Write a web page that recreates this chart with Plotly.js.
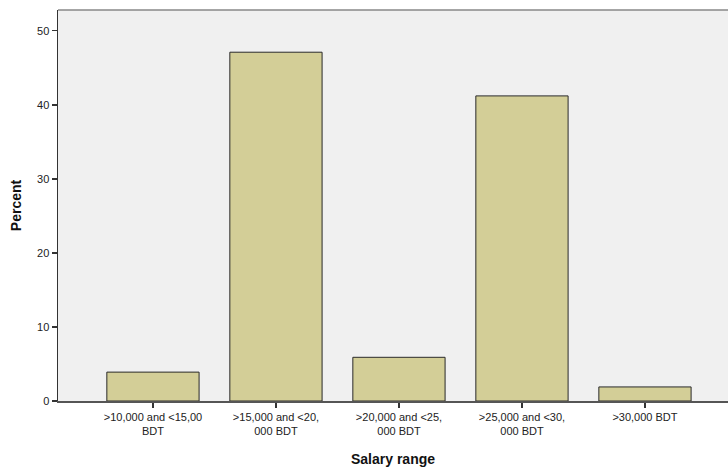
<!DOCTYPE html>
<html>
<head>
<meta charset="utf-8">
<script src="https://cdn.plot.ly/plotly-3.0.1.min.js"></script>
<style>html,body{margin:0;padding:0;background:#fff;}#chart{width:728px;height:468px;}</style>
</head>
<body>
<div id="chart"></div>
<script>
const categories = ['>10,000 and <15,00 BDT', '>15,000 and <20,000 BDT', '>20,000 and <25,000 BDT', '>25,000 and <30,000 BDT', '>30,000 BDT'];
const tickLabels = ['>10,000 and &lt;15,00<br>BDT', '>15,000 and &lt;20,<br>000 BDT', '>20,000 and &lt;25,<br>000 BDT', '>25,000 and &lt;30,<br>000 BDT', '>30,000 BDT'];
const percent = [3.9, 47.1, 5.9, 41.2, 1.9];
const yTicks = [0, 10, 20, 30, 40, 50];

const fontFam = 'Arial, "Liberation Sans", sans-serif';

const trace = {
  type: 'bar',
  x: categories,
  y: percent,
  width: 0.75,
  marker: {color: '#d3ce97', line: {color: '#2a2a2a', width: 1}},
  hoverinfo: 'x+y'
};

const layout = {
  width: 728,
  height: 468,
  margin: {l: 58, r: 0, t: 10, b: 67},
  paper_bgcolor: '#ffffff',
  plot_bgcolor: '#f0f0f0',
  showlegend: false,
  font: {family: fontFam, color: '#222', size: 11},
  xaxis: {
    type: 'category',
    range: [-0.772, 4.675],
    tickmode: 'array',
    tickvals: categories,
    ticktext: tickLabels,
    ticks: 'outside',
    ticklen: 5,
    tickwidth: 1.5,
    tickcolor: '#333',
    showline: true,
    linecolor: '#555',
    linewidth: 1.5,
    showgrid: false,
    zeroline: false,
    tickfont: {family: fontFam, size: 11, color: '#222'},
    title: {text: 'Salary range', font: {family: fontFam, size: 14, color: '#111', weight: 'bold'}, standoff: 18}
  },
  yaxis: {
    range: [0, 52.8],
    tickmode: 'array',
    tickvals: yTicks,
    ticktext: yTicks.map(String),
    ticks: 'outside',
    ticklen: 5,
    tickwidth: 1.5,
    tickcolor: '#333',
    showline: true,
    linecolor: '#333',
    linewidth: 1.5,
    showgrid: false,
    zeroline: false,
    tickfont: {family: fontFam, size: 11, color: '#222'},
    title: {text: 'Percent', font: {family: fontFam, size: 14, color: '#111', weight: 'bold'}, standoff: 12}
  },
  shapes: [{
    type: 'line', xref: 'paper', yref: 'paper', x0: 0, x1: 1, y0: 1, y1: 1,
    line: {color: '#888', width: 1.5}
  }]
};

Plotly.newPlot('chart', [trace], layout, {displayModeBar: false, staticPlot: true});
</script>
</body>
</html>
